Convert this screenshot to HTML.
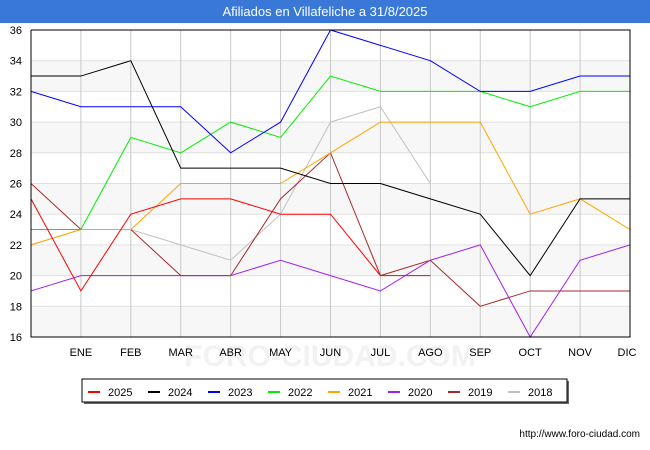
<!DOCTYPE html>
<html><head><meta charset="utf-8"><style>
body{margin:0;background:#fff;font-family:"Liberation Sans",sans-serif;}
#wrap{position:relative;width:650px;height:450px;overflow:hidden;}
#title{position:absolute;left:0;top:0;width:650px;height:23px;background:#3a78d8;color:#fff;font-size:13px;text-align:center;line-height:23px;}
</style></head><body>
<div id="wrap">
<div id="title">Afiliados en Villafeliche a 31/8/2025</div>
<svg id="svg" width="650" height="450" style="position:absolute;left:0;top:0"></svg>
</div>
<script>
const months=["","ENE","FEB","MAR","ABR","MAY","JUN","JUL","AGO","SEP","OCT","NOV","DIC"];
const yTicks=[16,18,20,22,24,26,28,30,32,34,36];
const years=["2025","2024","2023","2022","2021","2020","2019","2018"];
const colors=["#ff0000","#000000","#0000ff","#00ee00","#ffa500","#a020f0","#a52a2a","#c0c0c0"];
const s2025=[25,19,24,25,25,24,24,20,20,null,null,null,null];
const s2024=[33,33,34,27,27,27,26,26,25,24,20,25,25];
const s2023=[32,31,31,31,28,30,36,35,34,32,32,33,33];
const s2022=[23,23,29,28,30,29,33,32,32,32,31,32,32];
const s2021=[22,23,23,26,26,26,28,30,30,30,24,25,23];
const s2020=[19,20,20,20,20,21,20,19,21,22,16,21,22];
const s2019=[26,23,23,20,20,25,28,20,21,18,19,19,19];
const s2018=[22,23,23,22,21,24,30,31,26,null,null,null,null];
const series=[s2025,s2024,s2023,s2022,s2021,s2020,s2019,s2018];
const svg=document.getElementById('svg');const NS="http://www.w3.org/2000/svg";
const X0=31,X1=630,Y0=337,Y1=30;
const x=i=>X0+i*(X1-X0)/12;
const y=v=>Y0-(v-16)*(Y0-Y1)/20;
function mk(t,a){const e=document.createElementNS(NS,t);for(const k in a)e.setAttribute(k,a[k]);svg.appendChild(e);return e;}
for(let v=16;v<36;v+=4){const r=mk('rect',{x:X0,y:y(v+2),width:X1-X0,height:y(v)-y(v+2),fill:'#f7f7f7'});

}
const wm=mk('text',{x:330,y:366,'text-anchor':'middle','font-size':'30',fill:'#f2f2f2','font-weight':'bold'});wm.textContent="FORO-CIUDAD.COM";


yTicks.forEach(v=>{const l=mk('line',{x1:X0,x2:X1,y1:y(v),y2:y(v),stroke:'#e0e0e0'});


const t=mk('text',{x:22,y:y(v)+4,'text-anchor':'end','font-size':'11',fill:'#000'});t.textContent=v;

});
months.forEach((m,i)=>{if(i>0){const l=mk('line',{x1:x(i),x2:x(i),y1:Y1,y2:Y0,stroke:'#c8c8c8'});

}
const t=mk('text',{x:x(i)-(i==12?3:0),y:356,'text-anchor':'middle','font-size':'11',fill:'#000'});t.textContent=m;

});
for(let s=series.length-1;s>=0;s--){let d="";let pen=false;series[s].forEach((v,i)=>{if(v==null){pen=false;return;}d+=(pen?"L":"M")+x(i)+","+y(v);pen=true;});
const p=mk('path',{d:d,fill:'none',stroke:colors[s],'stroke-width':1});

}
const ax=mk('path',{d:`M${X0},${Y1}V${Y0}H${X1}V${Y1}H${X0}`,fill:'none',stroke:'#000'});


mk('rect',{x:84,y:381,width:485,height:23,fill:'#666'});
const lg=mk('rect',{x:82,y:379,width:485,height:23,fill:'#fff',stroke:'#000'});


years.forEach((yr,i)=>{const lx=88+i*60;
const l=mk('line',{x1:lx,x2:lx+12,y1:392,y2:392,stroke:colors[i],'stroke-width':2});


const t=mk('text',{x:lx+20,y:396,'font-size':'11',fill:'#000'});t.textContent=yr;

});
const u=mk('text',{x:640,y:437,'text-anchor':'end','font-size':'10',fill:'#000'});u.textContent="http://www.foro-ciudad.com";


</script>
</body></html>
